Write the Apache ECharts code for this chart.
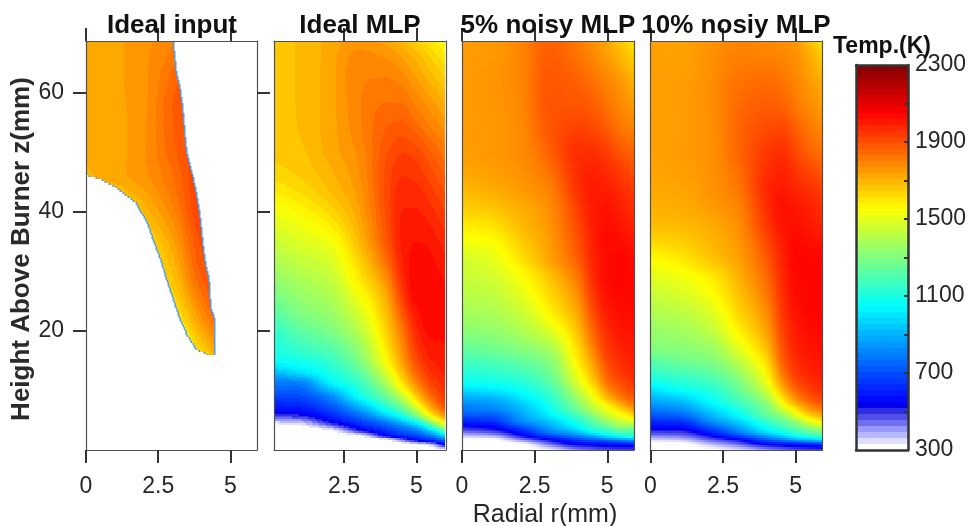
<!DOCTYPE html>
<html><head><meta charset="utf-8">
<style>html,body{margin:0;padding:0;background:#fff}#c{width:968px;height:526px}</style>
<script src="https://cdn.jsdelivr.net/npm/echarts@6/dist/echarts.min.js"></script>
</head><body><div id="c"></div>
<script>
const panelTitles = ['Ideal input','Ideal MLP','5% noisy MLP','10% nosiy MLP'];
const rKnots = [0,1,2,3,4,4.5,5,5.5,6];
const zKnots = [0,0.8,1.6,2.4,3.2,4,4.8,5.6,6.4,7.2,8,9,10,11.5,13,15,17,20,23,26,29,32,35,38,41,44,47,50,54,58,62,66,68.7];
const idealMlp = [
[300,300,300,300,300,300,300,300,300],
[300,300,300,300,300,300,320,350,550],
[300,300,300,300,320,430,550,640,750],
[300,300,300,320,550,620,680,780,970],
[300,300,315,490,640,720,785,960,1210],
[310,325,430,590,730,810,930,1160,1460],
[370,400,540,670,820,950,1090,1370,1610],
[460,490,600,740,940,1065,1260,1515,1740],
[555,560,650,810,1050,1170,1370,1640,1830],
[590,610,705,890,1130,1260,1480,1720,1890],
[630,650,755,975,1200,1340,1575,1780,1930],
[680,700,815,1065,1270,1430,1650,1840,1950],
[730,745,915,1105,1330,1520,1720,1880,1965],
[795,815,1030,1160,1410,1600,1790,1920,1980],
[900,985,1090,1215,1480,1670,1850,1955,1995],
[1060,1090,1150,1290,1560,1730,1900,1985,2005],
[1095,1155,1210,1335,1600,1765,1935,2005,2015],
[1130,1230,1290,1405,1650,1810,1975,2030,2025],
[1210,1300,1345,1470,1690,1870,2010,2045,2030],
[1280,1345,1390,1530,1730,1930,2040,2045,2025],
[1335,1390,1435,1590,1790,1965,2045,2035,2015],
[1390,1440,1480,1635,1850,1985,2035,2025,1995],
[1440,1485,1525,1680,1885,1995,2020,2010,1970],
[1490,1525,1585,1710,1900,1995,2005,1985,1945],
[1535,1575,1640,1735,1910,1985,1985,1960,1915],
[1590,1625,1680,1752,1910,1970,1965,1930,1885],
[1630,1655,1700,1765,1905,1950,1940,1900,1850],
[1650,1668,1718,1775,1890,1925,1910,1865,1815],
[1652,1678,1722,1790,1865,1880,1850,1805,1765],
[1655,1680,1722,1795,1835,1835,1795,1755,1710],
[1655,1680,1722,1795,1805,1790,1745,1700,1650],
[1655,1680,1720,1780,1765,1735,1695,1640,1590],
[1655,1680,1716,1755,1725,1690,1640,1590,1550]];
const noisy5 = [
[300,300,300,320,420,450,470,480,480],
[300,300,300,420,530,540,560,570,580],
[310,310,410,530,660,720,760,820,880],
[370,390,520,680,810,900,1020,1090,1120],
[460,490,610,810,960,1090,1150,1230,1220],
[530,565,720,880,1060,1170,1255,1360,1350],
[620,640,820,940,1110,1230,1350,1450,1500],
[690,700,850,1000,1170,1290,1430,1520,1610],
[760,770,885,1045,1240,1370,1490,1590,1720],
[795,825,920,1075,1295,1430,1545,1680,1800],
[845,865,960,1105,1330,1480,1620,1760,1860],
[910,930,1020,1140,1385,1530,1710,1830,1900],
[985,1010,1065,1170,1430,1575,1770,1870,1930],
[1070,1085,1120,1220,1490,1640,1830,1910,1960],
[1110,1135,1170,1265,1535,1690,1870,1940,1985],
[1180,1200,1240,1310,1590,1740,1910,1965,1995],
[1240,1265,1305,1375,1625,1790,1940,1985,2005],
[1320,1335,1385,1480,1680,1850,1970,2010,2015],
[1370,1385,1440,1565,1730,1900,2000,2025,2030],
[1410,1425,1495,1620,1780,1940,2020,2035,2035],
[1440,1460,1540,1665,1825,1965,2035,2045,2030],
[1465,1500,1600,1730,1870,1980,2030,2040,2020],
[1530,1550,1645,1745,1895,1990,2035,2025,2000],
[1590,1610,1685,1760,1915,1995,2025,2005,1975],
[1650,1670,1715,1775,1935,2000,2015,1985,1950],
[1690,1715,1750,1800,1960,2000,1990,1960,1930],
[1725,1740,1765,1830,1965,1985,1965,1930,1890],
[1740,1752,1775,1860,1960,1960,1930,1880,1850],
[1745,1752,1780,1880,1925,1910,1875,1820,1790],
[1748,1755,1785,1885,1885,1870,1825,1780,1740],
[1745,1758,1790,1880,1860,1830,1790,1750,1690],
[1745,1750,1790,1870,1825,1790,1745,1690,1630],
[1740,1745,1790,1860,1810,1770,1720,1660,1590]];
const noisy10 = [
[300,300,310,340,410,440,470,480,490],
[300,300,360,430,530,550,570,590,610],
[350,365,450,530,710,780,860,930,1000],
[430,440,530,680,870,960,1070,1130,1190],
[505,510,630,810,1020,1100,1180,1260,1340],
[575,580,730,890,1090,1180,1270,1390,1480],
[635,650,825,960,1160,1240,1350,1520,1600],
[695,720,880,1030,1225,1305,1475,1610,1700],
[755,790,930,1075,1270,1390,1550,1710,1790],
[815,855,985,1130,1295,1480,1640,1790,1860],
[865,910,1040,1170,1340,1550,1730,1850,1910],
[930,985,1080,1210,1400,1620,1800,1900,1945],
[995,1060,1115,1250,1460,1680,1850,1930,1970],
[1075,1120,1170,1290,1525,1750,1900,1960,1990],
[1145,1185,1225,1345,1570,1800,1940,1985,2005],
[1220,1265,1295,1420,1630,1850,1965,2000,2015],
[1300,1315,1345,1490,1680,1880,1985,2015,2025],
[1345,1365,1420,1570,1740,1910,2000,2030,2035],
[1390,1415,1475,1625,1780,1935,2015,2040,2040],
[1440,1470,1535,1665,1820,1950,2030,2040,2040],
[1490,1525,1580,1700,1850,1965,2035,2045,2040],
[1550,1590,1660,1735,1880,1980,2040,2040,2040],
[1625,1645,1690,1755,1910,1995,2035,2025,2010],
[1680,1690,1715,1775,1945,2010,2020,2000,1980],
[1705,1715,1745,1795,1965,2020,2005,1985,1950],
[1720,1730,1760,1820,1975,2000,1975,1950,1920],
[1730,1740,1763,1835,1960,1985,1945,1910,1870],
[1735,1745,1765,1850,1940,1960,1910,1860,1820],
[1738,1742,1768,1850,1905,1915,1865,1815,1780],
[1740,1745,1770,1840,1870,1860,1815,1775,1730],
[1740,1742,1770,1825,1840,1825,1790,1745,1700],
[1740,1735,1765,1800,1800,1790,1770,1710,1640],
[1740,1730,1760,1790,1780,1770,1750,1670,1590]];
const inputRKnots = [0,1,2,3,4,4.5];
const inputZKnots = [15.9,16.8,19.3,22,23.5,26,28.6,32,35,37.5,41.4,44,45.6,46.2,50,54,58,61,63.5,66,68.7];
const inputLeftEdge = [4.24,3.83,3.49,3.25,3.14,2.97,2.79,2.57,2.35,2.17,1.76,1.06,0.48,0,0,0,0,0,0,0,0];
const inputRightEdge = [4.47,4.47,4.47,4.47,4.35,4.3,4.27,4.12,4.05,4.0,3.9,3.8,3.73,3.7,3.5,3.42,3.35,3.26,3.14,3.08,3.03];
const idealInput = [
[1500,1500,1500,1500,1620,1720],
[1500,1500,1500,1500,1640,1735],
[1500,1500,1500,1520,1700,1785],
[1500,1500,1500,1570,1760,1845],
[1500,1500,1520,1595,1785,1870],
[1500,1500,1540,1635,1825,1895],
[1500,1500,1560,1665,1860,1905],
[1500,1520,1585,1700,1885,1915],
[1500,1550,1615,1730,1900,1925],
[1540,1590,1655,1760,1912,1930],
[1600,1645,1705,1800,1930,1940],
[1660,1690,1740,1820,1930,1940],
[1695,1720,1755,1828,1930,1940],
[1700,1725,1760,1830,1930,1940],
[1710,1725,1765,1850,1930,1940],
[1712,1725,1765,1860,1930,1940],
[1712,1728,1760,1865,1930,1940],
[1712,1730,1760,1850,1930,1940],
[1713,1730,1760,1835,1930,1940],
[1715,1730,1760,1815,1930,1940],
[1716,1730,1758,1800,1930,1940]];
const xTicks = [[0,2.5,5],[2.5,5],[0,2.5,5],[0,2.5,5]];
const yTicks = [20,40,60];
const colorbarLabels = [300,700,1100,1500,1900,2300];
const colorbarTicks = [500,700,900,1100,1300,1500,1700,1900,2100];

const FONT = '"Liberation Sans", Arial, sans-serif';
const INK = '#262626', FRAME = '#505050';
const cmap = [[300,255,255,255],[315,255,255,255],[346,224,224,255],[378,184,184,255],[410,152,152,255],[440,112,112,240],[472,80,80,232],[502,48,48,224],[534,0,0,240],[550,0,0,255],[1050,0,255,255],[1300,128,255,128],[1550,255,255,0],[1800,255,128,0],[2050,255,0,0],[2300,128,0,0]];
function colorOf(v){
  v=Math.max(300,Math.min(2300,v));
  for(let i=1;i<cmap.length;i++){ if(v<=cmap[i][0]){
    const a=cmap[i-1],b=cmap[i],t=(v-a[0])/(b[0]-a[0]);
    return 'rgb('+[1,2,3].map(k=>Math.round(a[k]+(b[k]-a[k])*t)).join(',')+')';
  }}
  return 'rgb(128,0,0)';
}
const BAND=31.25;
const bandOf=v=>Math.max(0,Math.min(63,Math.floor((v-300)/BAND)));
const bandColor=k=>colorOf(300+(k+0.5)*BAND);

// monotone cubic shading between the values read at the knots (no overshoot)
function pchipTangents(x,y){
  const n=x.length,h=[],d=[],m=new Array(n);
  for(let i=0;i<n-1;i++){h[i]=x[i+1]-x[i];d[i]=(y[i+1]-y[i])/h[i];}
  m[0]=d[0];m[n-1]=d[n-2];
  for(let i=1;i<n-1;i++){
    if(d[i-1]*d[i]<=0)m[i]=0;
    else{const w1=2*h[i]+h[i-1],w2=h[i]+2*h[i-1];m[i]=(w1+w2)/(w1/d[i-1]+w2/d[i]);}
  }
  return m;
}
function pchipEval(x,y,m,q){
  let i=0;const n=x.length;
  while(i<n-2&&q>x[i+1])i++;
  const h=x[i+1]-x[i],t=(q-x[i])/h,t2=t*t,t3=t2*t;
  return (2*t3-3*t2+1)*y[i]+(t3-2*t2+t)*h*m[i]+(-2*t3+3*t2)*y[i+1]+(t3-t2)*h*m[i+1];
}

function gradientStops(rr,vv,banded){
  const r0=rr[0],span=rr[rr.length-1]-r0||1, off=r=>Math.max(0,Math.min(1,(r-r0)/span));
  const stops=[];
  for(let s=0;s<rr.length-1;s++){
    const ra=rr[s],rb=rr[s+1],va=vv[s],vb=vv[s+1];
    if(banded){
      let ka=bandOf(va);const kb=bandOf(vb);
      stops.push({offset:off(ra),color:bandColor(ka)});
      const dir=kb>ka?1:-1;
      while(ka!==kb){
        const next=ka+dir, B=300+(dir>0?next:ka)*BAND;
        const rc=ra+(B-va)/(vb-va)*(rb-ra);
        stops.push({offset:off(rc),color:bandColor(ka)});
        stops.push({offset:off(rc),color:bandColor(next)});
        ka=next;
      }
      stops.push({offset:off(rb),color:bandColor(kb)});
    } else {
      stops.push({offset:off(ra),color:colorOf(va)});
      if(s===rr.length-2)stops.push({offset:1,color:colorOf(vb)});
    }
  }
  return stops;
}

function fieldSeries(idx,rs,zs,rows,opt){
  const data=[];for(let i=0;i<zs.length-1;i++)data.push([zs[i],zs[i+1],i]);
  const cols=rs.map((_,j)=>rows.map(row=>row[j]));
  const colM=cols.map(c=>pchipTangents(zs,c));
  return {type:'custom',xAxisIndex:idx*2,yAxisIndex:idx*2,z:2,silent:true,animation:false,
    encode:{y:[0,1]},data,
    renderItem(params,api){
      const i=api.value(2),z0=api.value(0),z1=api.value(1);
      const yb=Math.round(api.coord([opt.rMin,z0])[1]),yt=Math.round(api.coord([opt.rMin,z1])[1]);
      const children=[];
      for(let y=yt;y<yb;y+=opt.step){
        const h=Math.min(opt.step,yb-y),t=(yb-(y+h/2))/(yb-yt);
        const zMid=z0+(z1-z0)*t;
        const vals=cols.map((c,j)=>pchipEval(zs,c,colM[j],zMid));
        const m=pchipTangents(rs,vals);
        let L=opt.rMin,R=opt.rMax;
        if(opt.left){L=Math.max(L,opt.left[i]+(opt.left[i+1]-opt.left[i])*t);R=Math.min(R,opt.right[i]+(opt.right[i+1]-opt.right[i])*t);}
        const rr=[],N=32;
        for(let k=0;k<=N;k++)rr.push(L+(R-L)*k/N);
        const vv=rr.map(r=>pchipEval(rs,vals,m,r));
        const x0=Math.round(api.coord([L,zMid])[0]),x1=Math.round(api.coord([R,zMid])[0]);
        children.push({type:'rect',shape:{x:x0,y,width:Math.max(1,x1-x0),height:h},
          style:{fill:new echarts.graphic.LinearGradient(0,0,1,0,gradientStops(rr,vv,opt.banded))},silent:true});
        if(opt.left){
          children.push({type:'rect',shape:{x:x1-1,y,width:1.5,height:h},style:{fill:'#4a9cf0'},silent:true});
          if(L>0)children.push({type:'rect',shape:{x:x0-0.5,y,width:1.5,height:h},style:{fill:'#4a9cf0'},silent:true});
        }
      }
      return {type:'group',children};
    }};
}

const panels=[
 {left:86,width:171,min:0,max:5.92},
 {left:274,width:172,min:0.086,max:6.02},
 {left:462,width:172,min:0,max:5.92},
 {left:650.5,width:172,min:0,max:5.93}];
const grid=[],xAxis=[],yAxis=[];
const lineS={show:true,onZero:false,lineStyle:{color:FRAME,width:1.2}};
const tickS={show:true,length:13,lineStyle:{color:'#333',width:2}};
const plain=v=>String(v);
panels.forEach((p,i)=>{
  grid.push({left:p.left,top:41,width:p.width,height:409,containLabel:false,outerBoundsMode:'none'});
  const tv=xTicks[i];
  xAxis.push({gridIndex:i,type:'value',position:'bottom',min:p.min,max:p.max,z:5,splitLine:{show:false},axisLine:lineS,
    axisTick:{...tickS,customValues:tv},
    axisLabel:{show:true,customValues:tv,formatter:plain,fontFamily:FONT,fontSize:23,color:INK,margin:25,hideOverlap:false},
    ...(i===2?{name:'Radial r(mm)',nameLocation:'middle',nameGap:50,nameTextStyle:{fontFamily:FONT,fontSize:25,color:INK,padding:[0,6,0,0]}}:{})});
  xAxis.push({gridIndex:i,type:'value',position:'top',min:p.min,max:p.max,z:5,splitLine:{show:false},axisLine:lineS,
    axisTick:{...tickS,customValues:tv},axisLabel:{show:false}});
  yAxis.push({gridIndex:i,type:'value',position:'left',min:0,max:68.7,z:5,splitLine:{show:false},axisLine:lineS,
    axisTick:i===0?{...tickS,customValues:yTicks}:{show:false},
    axisLabel:i===0?{show:true,customValues:yTicks,formatter:plain,fontFamily:FONT,fontSize:23,color:INK,margin:22,padding:[4,0,0,0]}:{show:false},
    ...(i===0?{name:'Height Above Burner z(mm)',nameLocation:'middle',nameGap:51,nameTextStyle:{fontFamily:FONT,fontSize:26,fontWeight:'bold',color:'#2a2a2a',padding:[0,7,0,0]}}:{})});
  yAxis.push({gridIndex:i,type:'value',position:'right',min:0,max:68.7,z:5,splitLine:{show:false},axisLine:lineS,
    axisTick:i===0?{...tickS,customValues:yTicks}:{show:false},axisLabel:{show:false}});
});
// colour bar
grid.push({left:856,top:65,width:52,height:385,outerBoundsMode:'none'});
const cbLine={show:true,onZero:false,lineStyle:{color:'#333',width:2.5}};
xAxis.push({gridIndex:4,type:'value',position:'bottom',min:0,max:1,z:5,splitLine:{show:false},axisLine:cbLine,axisTick:{show:false},axisLabel:{show:false}});
xAxis.push({gridIndex:4,type:'value',position:'top',min:0,max:1,z:5,splitLine:{show:false},axisLine:cbLine,axisTick:{show:false},axisLabel:{show:false}});
yAxis.push({gridIndex:4,type:'value',position:'left',min:300,max:2300,z:5,splitLine:{show:false},axisLine:cbLine,axisTick:{show:false},axisLabel:{show:false}});
yAxis.push({gridIndex:4,type:'value',position:'right',min:300,max:2300,z:5,splitLine:{show:false},axisLine:cbLine,
  axisTick:{show:true,inside:true,length:4,customValues:colorbarTicks,lineStyle:{color:'#333',width:2}},
  axisLabel:{show:true,inside:false,customValues:colorbarLabels,formatter:plain,fontFamily:FONT,fontSize:23,color:INK,margin:7,padding:[4,0,0,0]}});
const bandData=[];for(let k=0;k<64;k++)bandData.push([300+k*BAND,300+(k+1)*BAND,k]);
const colorbarSeries={type:'custom',xAxisIndex:8,yAxisIndex:8,z:2,silent:true,animation:false,encode:{y:[0,1]},data:bandData,
  renderItem(params,api){
    const a=api.coord([0,api.value(0)]),b=api.coord([1,api.value(1)]);
    const yt=Math.round(b[1]),yb=Math.round(a[1]);
    return {type:'rect',shape:{x:a[0],y:yt,width:b[0]-a[0],height:yb-yt},style:{fill:bandColor(api.value(2))},silent:true};
  }};

const titleXs=[167,355,543,731];
const title=panelTitles.map((t,i)=>({text:t,left:titleXs[i],top:8,textAlign:'center',textStyle:{fontFamily:FONT,fontSize:26,fontWeight:'bold',color:'#111'}}));
title.push({text:'Temp.(K)',left:877,top:30,textAlign:'center',textStyle:{fontFamily:FONT,fontSize:23,fontWeight:'bold',color:'#111'}});

const chart=echarts.init(document.getElementById('c'),null,{renderer:'canvas'});
chart.setOption({animation:false,backgroundColor:'#fff',title,grid,xAxis,yAxis,
  series:[
    fieldSeries(0,inputRKnots,inputZKnots,idealInput,{rMin:0,rMax:5.92,step:2,banded:true,left:inputLeftEdge,right:inputRightEdge}),
    fieldSeries(1,rKnots,zKnots,idealMlp,{rMin:0.086,rMax:6,step:2,banded:true}),
    fieldSeries(2,rKnots,zKnots,noisy5,{rMin:0,rMax:5.92,step:2,banded:false}),
    fieldSeries(3,rKnots,zKnots,noisy10,{rMin:0,rMax:5.93,step:2,banded:false}),
    colorbarSeries
  ]});
</script></body></html>
